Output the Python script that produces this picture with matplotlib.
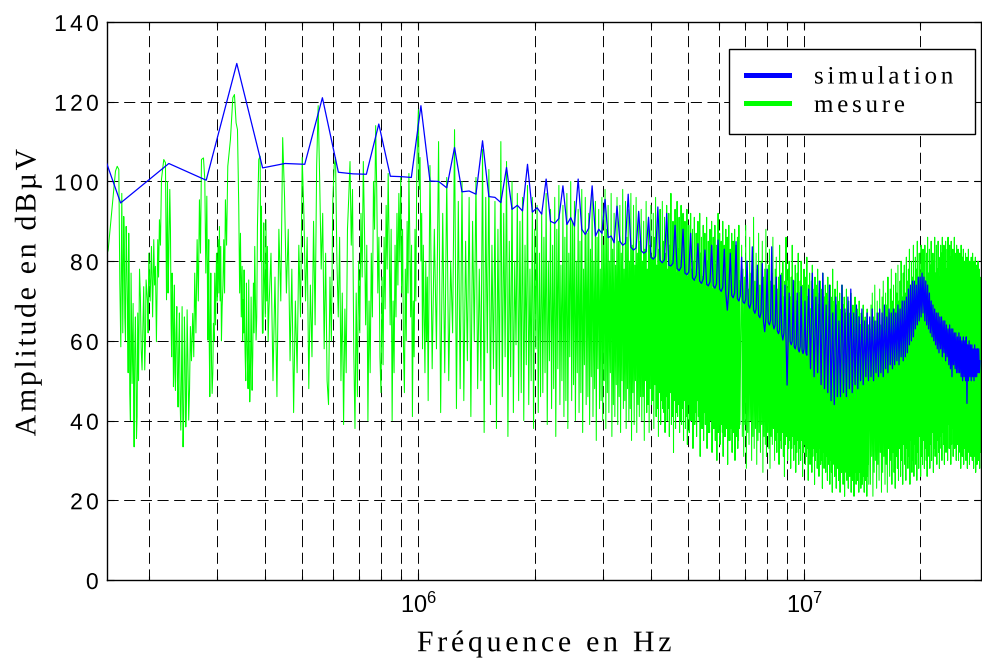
import numpy as np
import matplotlib
matplotlib.use("Agg")
import matplotlib.pyplot as plt
from matplotlib.ticker import LogLocator, NullFormatter, FixedLocator
from matplotlib.lines import Line2D
from matplotlib.font_manager import FontProperties, get_font, findfont
from matplotlib.patheffects import AbstractPathEffect
from matplotlib.path import Path
from matplotlib.textpath import text_to_path

plt.rcParams['lines.scale_dashes'] = False
plt.rcParams['mathtext.fontset'] = 'custom'
plt.rcParams['mathtext.rm'] = 'Liberation Sans'
plt.rcParams['font.family'] = ['Liberation Sans', 'DejaVu Sans']

BIN_KHZ = 56.4   # spectral line spacing (kHz)

# ---------------- simulation (blue) ----------------
sim_start_khz = 150.0
sim_start_db = 109.0
sim_k = np.r_[3:181, 182:508:2]
sim_db = [
    94.6, 104.5, 100.3, 129.6, 103.4, 104.5, 104.3, 121.0, 102.3, 101.9, 101.8, 114.4, 101.3, 101.2, 101.0, 119.0,
    100.1, 100.0, 98.4, 108.5, 97.4, 97.6, 96.8, 110.2, 96.2, 96.0, 94.7, 103.5, 93.0, 94.0, 92.6, 104.3,
    92.3, 93.4, 91.8, 100.6, 90.0, 89.5, 90.7, 98.9, 89.2, 90.9, 88.8, 100.6, 88.0, 86.7, 88.3, 98.9,
    86.3, 88.0, 87.0, 95.5, 85.9, 86.3, 84.6, 93.8, 85.0, 84.0, 84.5, 96.8, 83.5, 82.8, 83.3, 92.5,
    82.6, 82.0, 82.4, 91.0, 81.0, 80.5, 81.2, 93.6, 80.2, 79.6, 80.4, 92.0, 79.0, 78.8, 79.5, 89.0,
    78.2, 77.6, 78.5, 88.0, 77.0, 76.6, 77.3, 87.0, 75.8, 75.2, 76.4, 84.4, 75.0, 74.4, 75.6, 82.8,
    74.2, 73.8, 74.8, 84.0, 73.8, 73.2, 74.3, 85.3, 73.0, 72.4, 73.4, 83.0, 72.0, 67.7, 72.6, 82.0,
    71.4, 70.8, 72.0, 84.9, 70.6, 70.0, 71.2, 81.0, 69.8, 69.4, 70.4, 80.0, 69.0, 68.2, 69.6, 83.6,
    67.8, 66.9, 68.0, 79.0, 66.4, 65.8, 67.2, 79.4, 64.8, 62.3, 65.6, 78.0, 64.6, 64.0, 65.2, 83.6,
    64.3, 63.0, 64.0, 76.0, 62.5, 61.8, 62.8, 76.5, 61.8, 60.2, 62.0, 74.0, 60.5, 48.9, 60.8, 72.0,
    59.8, 59.0, 60.0, 75.2, 58.5, 58.0, 59.2, 72.0, 58.0, 57.2, 58.6, 73.6, 57.6, 56.8, 58.0, 70.0,
    57.0, 56.4,
    73, 53, 77, 51, 71, 52, 75, 49, 77, 48,
    69, 47, 74, 45, 67, 44, 71, 46, 65, 46,
    74, 47, 68, 46, 71, 48, 73, 47, 67, 49,
    69, 48, 66, 50, 68, 49, 65, 51, 67, 50,
    66, 51, 68, 50, 65, 52, 67, 51, 68, 52,
    67, 51, 69, 53, 66, 52, 68, 54, 67, 53,
    68, 54, 67, 55, 69, 54, 68, 56, 70, 55,
    70, 56, 71, 57, 73, 59, 74, 60, 75, 61,
    75, 63, 74, 64, 76, 65, 76, 66, 77, 67,
    76, 65, 75, 64, 74, 63, 72, 62, 70, 61,
    69, 60, 68, 59, 67, 58, 67, 57, 66, 58,
    66, 56, 65, 57, 65, 55, 64, 56, 63, 54,
    64, 53, 63, 51, 63, 54, 62, 53, 62, 52,
    61, 52, 62, 52, 61, 51, 60, 50, 61, 51,
    60, 50, 61, 44.3, 59, 50, 60, 51, 59, 50,
    59, 51, 58, 50, 59, 51, 58, 51, 58, 52,
    58, 52, 55,
]

# ---------------- measurement (green) ----------------
# 150-410 kHz: points read off the trace (kHz, dBuV)
mes_low_khz = [
    154.0, 157.1, 160.9, 164.1, 165.8, 167.4, 168.4, 169.4, 170.4, 172.4,
    173.5, 174.9, 176.3, 177.6, 178.7, 180.1, 181.2, 182.3, 183.4, 184.8,
    186.0, 187.4, 190.4, 192.3, 194.2, 195.4, 197.0, 200.2, 203.4, 206.2,
    208.3, 209.5, 211.2, 213.3, 215.9, 218.9, 221.1, 222.5, 223.8, 225.5,
    226.9, 228.7, 230.1, 231.9, 233.2, 234.7, 236.6, 238.4, 240.3, 242.3,
    244.2, 245.6, 247.6, 249.6, 251.6, 254.0, 256.6, 260.2, 263.3, 267.1,
    270.8, 274.1, 277.4, 279.6, 281.3, 283.0, 284.7, 286.3, 288.1, 289.8,
    292.1, 294.4, 296.7, 299.8, 302.7, 305.1, 307.5, 310.1, 313.1, 316.2,
    320.7, 325.8, 330.5, 333.7, 337.0, 339.8, 342.4, 345.9, 349.4, 351.4,
    353.5, 355.6, 358.5, 360.6, 363.4, 365.6, 368.6, 370.8, 373.7, 376.7,
    379.7, 382.8, 385.8, 389.0, 392.1, 394.4, 397.4, 399.9, 402.7, 406.3,
]
mes_low_db = [
    80.0, 82.8, 93.8, 102.6, 103.8, 103.0, 74.5, 58.5, 97.0, 91.2,
    66.0, 88.7, 68.6, 87.0, 46.8, 77.0, 49.3, 69.4, 33.4, 66.0,
    35.5, 67.0, 71.0, 52.7, 73.6, 52.7, 75.3, 82.0, 83.7, 85.4,
    78.7, 59.8, 85.4, 90.4, 100.5, 105.5, 104.7, 70.3, 100.0, 81.2,
    98.0, 64.4, 77.0, 48.5, 74.0, 47.6, 68.6, 43.4, 67.0, 37.6,
    68.6, 33.4, 66.0, 38.4, 67.8, 40.1, 63.6, 66.9, 77.0, 85.4,
    95.4, 105.5, 105.9, 100.5, 77.0, 96.3, 60.2, 85.4, 46.0, 77.0,
    46.8, 64.4, 77.0, 82.0, 85.4, 88.7, 83.7, 68.6, 85.4, 95.4,
    103.8, 110.5, 121.0, 121.8, 114.7, 113.0, 93.8, 87.0, 78.7, 70.3,
    77.8, 56.9, 74.5, 55.2, 75.3, 44.7, 71.0, 47.6, 74.5, 83.7,
    60.2, 88.7, 105.5, 106.3, 93.8, 61.9, 89.6, 72.0, 90.4, 83.7,
]
# finer spikes between the points above
mes_low_extra_khz = [
    171.4, 173.0, 174.2, 175.6, 177.0, 178.2, 179.4, 180.7, 182.8, 184.1,
    185.4, 186.7, 188.3, 189.4, 191.3, 193.3, 196.2, 198.6, 199.4, 201.8,
    204.8, 207.2, 210.3, 212.2, 214.6, 224.6, 227.8, 229.4, 231.0, 232.6,
    233.9, 235.6, 237.5, 239.3, 241.3, 243.2, 244.9, 246.6, 248.6, 250.6,
    252.8, 255.3, 258.2, 261.8, 265.2, 269.0, 272.5, 285.5, 287.2, 289.0,
    291.0, 293.3, 295.5, 298.2, 301.2, 304.0, 306.3, 308.8, 311.6, 314.6,
    318.4, 344.2, 347.6, 350.4, 352.5, 354.5, 357.0, 359.6, 362.0, 364.5,
    367.1, 369.7, 372.2, 375.2, 378.2, 381.2, 390.5, 393.2, 396.0, 398.6,
    401.3, 404.5, 408.0,
]
mes_low_extra_db = [
    62, 84, 60, 80, 52, 72, 40, 62, 48, 58,
    54, 41, 50, 78, 58, 64, 60, 70, 62, 70,
    66, 74, 72, 76, 84, 72, 88, 56, 70, 60,
    52, 62, 50, 58, 45, 50, 46, 42, 56, 45,
    55, 48, 55, 56, 62, 70, 82, 78, 58, 66,
    55, 52, 60, 64, 70, 72, 70, 60, 74, 72,
    84, 72, 66, 60, 62, 64, 50, 62, 48, 60,
    52, 58, 56, 62, 70, 66, 80, 72, 62, 78,
    66, 70, 60,
]
# 410-1060 kHz: sweep read every 5 kHz
mes_sweep_start_khz = 410.0
mes_sweep_step_khz = 5.0
mes_sweep_db = [
    68, 82, 50, 76, 46, 88, 70, 111, 96, 72,
    88, 55, 78, 42, 70, 52, 84, 66, 106, 92,
    70, 86, 48, 74, 56, 90, 64, 104, 119, 100,
    78, 92, 58, 82, 50, 44, 76, 60, 95, 104,
    106, 80, 66, 86, 50, 72, 39, 68, 52, 88,
    96, 105, 84, 98, 58, 38, 72, 46, 80, 62,
    92, 76, 105, 88, 64, 84, 40, 70, 52, 82,
    66, 100, 88, 114, 98, 72, 86, 56, 47, 76,
    54, 86, 68, 94, 78, 102, 84, 64, 88, 40,
    70, 52, 84, 66, 92, 74, 97, 80, 101, 72,
    88, 58, 47, 78, 60, 90, 72, 102, 86, 66,
    84, 41, 70, 56, 88, 70, 100, 112, 118, 98,
    106, 80, 92, 58, 84, 66, 52, 80, 60, 76,
    45,
]
# 1.07-6.8 MHz: per spectral line k, main max / min and secondary max / min
mes_k1 = np.arange(19, 121)
mes_peak1_db = [
    104, 110, 101, 113, 100, 96, 101, 108, 103, 95,
    110, 105, 100, 97, 96, 99, 96, 94, 92, 97,
    93, 96, 99, 94, 97, 100, 95, 93, 98, 96,
    92, 97, 95, 93, 96, 98, 94, 97, 92, 96,
    94, 98, 95, 93, 97, 94, 96, 92,
    93, 90, 95, 91, 94, 92, 96, 90, 93, 95,
    91, 94, 92, 97, 90, 93, 95, 91, 94, 92,
    90, 93, 89, 92, 88, 91, 87, 90, 92, 86,
    89, 87, 91, 85, 88, 90, 86, 89, 84, 92,
    87, 85, 90, 84, 88, 86, 89, 83, 87, 85,
    88, 84, 86, 89,
]
mes_dip1_db = [
    53, 42, 50, 43, 45, 41, 48, 37, 44, 38,
    46, 36, 42, 45, 40, 44, 38, 42, 47, 39,
    43, 36, 44, 41, 38, 45, 40, 42, 37, 44,
    39, 41, 35, 43, 40, 38, 42, 36, 41, 39,
    37, 43, 38, 40, 35, 39, 37, 41,
    40, 35, 42, 37, 44, 38, 41, 36, 39, 43,
    37, 40, 36, 39, 32, 38, 41, 37, 39, 35,
    38, 34, 37, 40, 33, 39, 36, 41, 31, 38,
    35, 39, 33, 37, 40, 32, 38, 35, 30, 37,
    34, 39, 31, 36, 38, 29, 35, 40, 32, 37,
    30, 36, 33, 38,
]
mes_peak2_db = [
    88, 92, 80, 95, 85, 90, 78, 96, 84, 88,
    92, 85, 80, 90, 84, 78, 88, 82, 86, 80,
    84, 88, 79, 86, 82, 90, 80, 85, 78, 87,
    83, 80, 86, 78, 84, 88, 80, 83, 79, 85,
    82, 78, 86, 80, 84, 79, 82, 85,
    80, 83, 78, 84, 81, 86, 79, 83, 80, 85,
    82, 78, 84, 80, 82, 77, 83, 80, 78, 82,
    79, 76, 81, 78, 80, 75, 79, 77, 82, 76,
    78, 74, 80, 76, 78, 73, 77, 79, 75, 78,
    72, 76, 74, 77, 72, 76, 73, 75, 71, 76,
    73, 74, 72, 75,
]
mes_dip2_db = [
    58, 52, 62, 48, 55, 60, 50, 57, 53, 49,
    56, 51, 59, 47, 54, 50, 58, 46, 52, 55,
    48, 53, 50, 45, 56, 49, 52, 47, 54, 46,
    51, 48, 53, 45, 50, 47, 52, 44, 49, 46,
    50, 45, 48, 43, 47, 50, 44, 46,
    46, 50, 44, 48, 45, 49, 43, 47, 45, 42,
    46, 43, 47, 41, 45, 42, 44, 40, 43, 45,
    41, 44, 40, 43, 39, 42, 45, 40, 41, 38,
    42, 39, 41, 37, 40, 43, 38, 41, 37, 39,
    40, 37, 39, 36, 38, 40, 35, 38, 37, 39,
    36, 38, 35, 39,
]
# 6.9-14.7 MHz: per spectral line, max / min
mes_k2 = np.arange(122, 261)
mes_peak2a_db = [
    84, 78, 76, 89, 80, 73, 86, 77, 79, 91,
    75, 82, 78, 87, 74, 80, 85, 76, 78, 88,
    72, 79, 83, 75, 77, 86, 74, 78, 81, 73,
    76, 84, 72, 77, 80, 71, 75, 86, 73, 78,
    80, 71, 76, 84, 73, 75, 79, 70, 77, 82,
    72, 75, 80, 70, 74, 78, 69, 76, 81, 71,
    74, 77, 68, 75, 79, 70, 73, 76, 67, 74,
    78, 69, 72, 75, 66, 73, 77, 68, 71, 74,
    67, 72, 76, 66, 70, 74, 65, 71, 78, 67,
    70, 73, 64, 69, 75, 66, 70, 72, 63, 68,
    74, 65, 69, 71, 63, 67, 73, 64, 68, 70,
    62, 67, 72, 64, 66, 69, 61, 66, 71, 63,
    65, 68, 61, 66, 70, 62, 64, 67, 60, 65,
    69, 62, 64, 66, 60, 65, 68, 61, 64,
]
mes_dip2a_db = [
    36, 31, 39, 28, 37, 34, 40, 30, 36, 33,
    38, 29, 35, 37, 32, 39, 27, 36, 34, 31,
    37, 33, 28, 36, 34, 38, 30, 35, 32, 37,
    29, 35, 33, 37, 31, 26, 34, 36, 30, 33,
    35, 28, 33, 36, 30, 34, 27, 32, 35, 29,
    33, 30, 35, 26, 32, 34, 29, 31, 33, 25,
    32, 29, 34, 27, 31, 33, 24, 30, 32, 28,
    31, 26, 33, 29, 30, 23, 32, 28, 30, 27,
    31, 25, 29, 32, 24, 30, 27, 22, 29, 31,
    26, 29, 23, 30, 28, 25, 31, 22, 28, 27,
    30, 24, 28, 21, 29, 27, 25, 30, 23, 28,
    26, 29, 22, 28, 25, 30, 21, 27, 29, 24,
    28, 25, 30, 22, 27, 29, 23, 28, 24, 26,
    29, 22, 27, 25, 28, 21, 26, 29, 24,
]
# from 14.8 MHz: every second spectral line, max / min
mes_k3 = np.arange(262, 508, 2)
mes_peak_hf_db = [
    63, 69, 72, 66, 74, 65, 70, 67, 73, 64,
    71, 75, 66, 72, 69, 76, 67, 73, 78, 70, 74, 68, 77, 72, 79, 70, 75, 80, 71, 77,
    79, 72, 81, 75, 78, 83, 73, 80, 76, 84, 74, 81, 78, 85, 75, 82, 77, 84, 79, 83,
    78, 84, 75, 82, 86, 77, 83, 79, 85, 76, 82, 80, 86, 77, 84, 78, 85, 81, 76, 84,
    82, 86, 77, 84, 80, 85, 78, 83, 86, 79, 84, 81, 85, 77, 83, 80, 86, 78, 82, 84,
    79, 83, 76, 82, 80, 84, 77, 81, 83, 75, 80, 82, 76, 81, 78, 83, 75, 80, 77, 81,
    78, 82, 75, 80, 77, 81, 74, 79, 76, 80, 75, 78, 76,
]
mes_dip_hf_db = [
    24, 31, 21, 27, 30, 23, 29, 25, 32, 22,
    27, 31, 24, 29, 22, 33, 26, 30, 24, 32, 27, 23, 31, 28, 25, 33, 26, 30, 24, 34,
    29, 25, 33, 28, 31, 24, 35, 27, 30, 26, 34, 29, 25, 32, 28, 36, 26, 31, 29, 35,
    28, 33, 30, 26, 36, 31, 28, 34, 30, 37, 27, 33, 31, 38, 29, 35, 32, 28, 36, 33,
    30, 37, 34, 29, 38, 32, 35, 30, 39, 33, 36, 29, 34, 38, 31, 35, 33, 37, 30, 36,
    34, 30, 37, 32, 28, 35, 31, 36, 29, 33, 37, 30, 34, 28, 32, 36, 29, 33, 31, 35,
    30, 34, 28, 33, 31, 27, 35, 29, 32, 30, 34, 28, 32,
]

y_ticks = [0, 20, 40, 60, 80, 100, 120, 140]
series_labels = ["simulation", "mesure"]
x_label = "Fréquence en Hz"
y_label = "Amplitude en dBµV"

assert len(sim_db) == len(sim_k)
assert len(mes_low_khz) == len(mes_low_db)
assert len(mes_low_extra_khz) == len(mes_low_extra_db)
assert len(mes_k1) == len(mes_peak1_db) == len(mes_dip1_db) == len(mes_peak2_db) == len(mes_dip2_db)
assert len(mes_k2) == len(mes_peak2a_db) == len(mes_dip2a_db)
assert len(mes_k3) == len(mes_peak_hf_db) == len(mes_dip_hf_db)

# ---------------- build series ----------------
sim_f = np.r_[sim_start_khz, sim_k * BIN_KHZ] * 1e3
sim_v = np.r_[sim_start_db, np.asarray(sim_db, float)]

lo_f = np.r_[mes_low_khz, mes_low_extra_khz]
lo_v = np.r_[mes_low_db, mes_low_extra_db]
order = np.argsort(lo_f, kind='stable')
lo_f, lo_v = lo_f[order], lo_v[order]

sw_f = mes_sweep_start_khz + mes_sweep_step_khz * np.arange(len(mes_sweep_db))
sw_v = np.asarray(mes_sweep_db, float)


def interleave(ks, series):
    """series: list of (offset in lines, values); returns freq (kHz), values."""
    m = len(series)
    f = np.empty(m * len(ks)); v = np.empty(m * len(ks))
    for j, (off, vals) in enumerate(series):
        f[j::m] = (ks + off) * BIN_KHZ
        v[j::m] = vals
    return f, v


b1_f, b1_v = interleave(mes_k1, [(0.0, mes_peak1_db), (0.25, mes_dip1_db),
                                 (0.5, mes_peak2_db), (0.75, mes_dip2_db)])
b2_f, b2_v = interleave(mes_k2, [(0.0, mes_peak2a_db), (0.5, mes_dip2a_db)])
b3_f, b3_v = interleave(mes_k3, [(0.0, mes_peak_hf_db), (1.0, mes_dip_hf_db)])

mes_f = np.r_[lo_f, sw_f, b1_f, b2_f, b3_f] * 1e3
mes_v = np.r_[lo_v, sw_v, b1_v, b2_v, b3_v]


# ---------------- letter-spaced text rendering ----------------
class Tracking(AbstractPathEffect):
    """Draw the text path with extra space between glyphs."""
    def __init__(self, s, prop, track_em, align='center'):
        super().__init__()
        font = get_font(findfont(prop))
        font.set_size(text_to_path.FONT_SCALE, text_to_path.DPI)
        glyphs, _, _ = text_to_path.get_glyphs_with_font(font, s)
        self.xs = np.array([g[1] for g in glyphs], float)
        self.track = track_em * text_to_path.FONT_SCALE
        self.align = align

    def draw_path(self, renderer, gc, tpath, affine, rgbFace=None):
        verts = np.array(tpath.vertices, float)
        codes = tpath.codes
        if codes is None or len(self.xs) < 2:
            renderer.draw_path(gc, tpath, affine, rgbFace)
            return
        starts = np.flatnonzero(codes == Path.MOVETO)
        ends = np.r_[starts[1:], len(codes)]
        for a, b in zip(starts, ends):
            seg = verts[a:b, 0]
            cx = 0.5 * (seg.min() + seg.max())
            i = max(int(np.searchsorted(self.xs, cx, side='right')) - 1, 0)
            verts[a:b, 0] += i * self.track
        total = (len(self.xs) - 1) * self.track
        if self.align == 'center':
            verts[:, 0] -= total / 2
        elif self.align == 'right':
            verts[:, 0] -= total
        renderer.draw_path(gc, Path(verts, codes), affine, rgbFace)


def track_text(t, em, align):
    t.set_path_effects([Tracking(t.get_text(), t.get_fontproperties(), em, align)])


# ---------------- figure ----------------
W, H = 982, 658
fig = plt.figure(figsize=(W / 100, H / 100), dpi=100)
ax = fig.add_axes([107 / W, 1 - 580 / H, (981 - 107) / W, (580 - 22) / H])

ax.plot(mes_f, mes_v, color='#00ff00', lw=0.75, zorder=2)
ax.plot(sim_f, sim_v, color='#0000ff', lw=0.9, zorder=3)

ax.set_xscale('log')
ax.set_xlim(1.56e5, 2.87e7)
ax.set_ylim(0, 140)
ax.yaxis.set_major_locator(FixedLocator(y_ticks))
ax.xaxis.set_major_locator(LogLocator(base=10))
ax.xaxis.set_minor_locator(LogLocator(base=10, subs=np.arange(2, 10)))
ax.xaxis.set_minor_formatter(NullFormatter())

grid_kw = dict(color='black', linestyle=(0, (8.0, 4.0)), linewidth=0.7)
ax.grid(True, which='both', axis='x', **grid_kw)
ax.grid(True, which='major', axis='y', **grid_kw)
ax.set_axisbelow(True)

ax.tick_params(which='both', direction='in', top=True, right=True, width=0.8)
ax.tick_params(which='major', length=5)
ax.tick_params(which='minor', length=3)
ax.tick_params(axis='y', labelsize=16.5, pad=6)
ax.tick_params(axis='x', labelsize=17, pad=9)
for s in ax.spines.values():
    s.set_linewidth(1.0)

serif = 'Liberation Serif'
xl = ax.set_xlabel(x_label, fontsize=21.5, family=serif)
ax.xaxis.set_label_coords(0.5, -0.09)
yl = ax.set_ylabel(y_label, fontsize=21.5, family=serif)
ax.yaxis.set_label_coords(-0.075, 0.515)
track_text(xl, 0.125, 'center')
track_text(yl, 0.09, 'center')

handles = [Line2D([], [], color='#0000ff', lw=3.6), Line2D([], [], color='#00ff00', lw=3.6)]
leg = ax.legend(handles, series_labels, loc='upper left', mode='expand',
                bbox_to_anchor=(729 / W, 0, 246 / W, 1 - 49 / H), bbox_transform=fig.transFigure,
                borderaxespad=0, fancybox=False, edgecolor='black', framealpha=1,
                handlelength=1.72, handletextpad=1.0, borderpad=0.68, labelspacing=0.24,
                prop=FontProperties(family=serif, size=18))
leg.get_frame().set_linewidth(1.0)
leg.set_zorder(5)
for t in leg.get_texts():
    track_text(t, 0.15, 'left')

fig.canvas.draw()
for tk in ax.yaxis.get_major_ticks():
    track_text(tk.label1, 0.14, 'right')

fig.savefig('out.png', dpi=100)
